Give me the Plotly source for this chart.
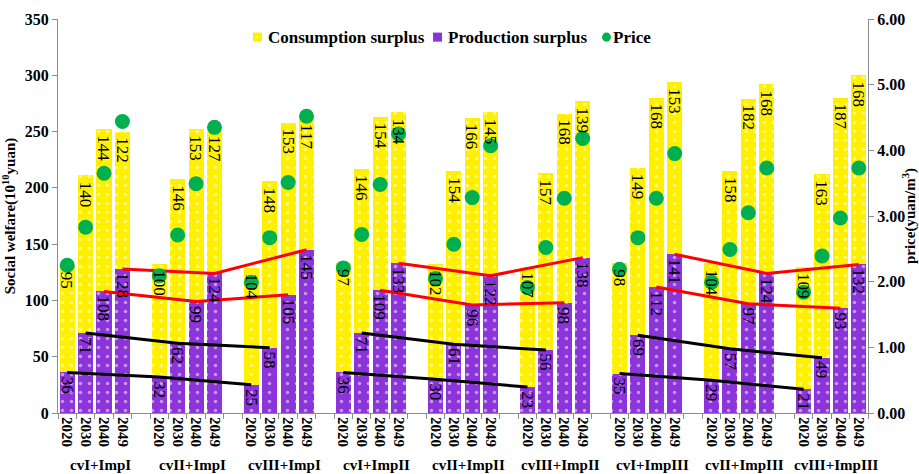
import plotly.graph_objects as go

groups = ["cvI+ImpI", "cvII+ImpI", "cvIII+ImpI",
          "cvI+ImpII", "cvII+ImpII", "cvIII+ImpII",
          "cvI+ImpIII", "cvII+ImpIII", "cvIII+ImpIII"]
years = ["2020", "2030", "2040", "2049"]

production = [36, 71, 108, 128,
              32, 62, 99, 124,
              25, 58, 105, 145,
              36, 71, 109, 133,
              30, 61, 96, 122,
              23, 56, 98, 138,
              35, 69, 112, 141,
              29, 57, 97, 124,
              21, 49, 93, 132]
consumption = [95, 140, 144, 122,
               100, 146, 153, 127,
               104, 148, 153, 117,
               97, 146, 154, 134,
               102, 154, 166, 145,
               107, 157, 168, 139,
               98, 149, 168, 153,
               104, 158, 182, 168,
               109, 163, 187, 168]
price = [2.25, 2.83, 3.65, 4.44,
         2.09, 2.71, 3.49, 4.35,
         1.99, 2.67, 3.51, 4.52,
         2.21, 2.72, 3.48, 4.25,
         2.05, 2.57, 3.28, 4.07,
         1.91, 2.52, 3.27, 4.18,
         2.19, 2.67, 3.27, 3.95,
         1.99, 2.49, 3.05, 3.73,
         1.84, 2.39, 2.97, 3.73]

FONT = "Times New Roman, Liberation Serif, serif"
YELLOW = "#FFF000"
PURPLE = "#8B34D9"
GREEN = "#00B050"
AXIS = "#8C8C8C"

# categorical axis with a spacer category between groups
cats, ticktext = [], []
for gi, g in enumerate(groups):
    for y in years:
        cats.append(f"{g} {y}")
        ticktext.append(y)
    if gi < len(groups) - 1:
        cats.append(f"{g} gap")
        ticktext.append(" ")

xbars = [f"{g} {y}" for g in groups for y in years]

fig = go.Figure()

bar_common = dict(x=xbars, width=0.82, marker_line_width=0, showlegend=False,
                  textposition="none")
fig.add_trace(go.Bar(
    name="Production surplus", y=production,
    marker=dict(color=PURPLE, pattern=dict(shape=".", fgcolor="white", size=9, solidity=0.12)),
    **bar_common))
fig.add_trace(go.Bar(
    name="Consumption surplus", y=consumption,
    marker=dict(color=YELLOW, pattern=dict(shape=".", fgcolor="white", size=9, solidity=0.12)),
    **bar_common))

# trend lines across cv scenarios within each Imp block
line_specs = [("2049", "#FF0000"), ("2040", "#FF0000"), ("2030", "black"), ("2020", "black")]
for b in range(3):
    block = groups[b * 3:(b + 1) * 3]
    for yr, col in line_specs:
        yi = years.index(yr)
        xs = [f"{g} {yr}" for g in block]
        ys = [production[groups.index(g) * 4 + yi] for g in block]
        fig.add_trace(go.Scatter(x=xs, y=ys, mode="lines", showlegend=False,
                                 line=dict(color=col, width=3), hoverinfo="skip"))

fig.add_trace(go.Scatter(
    name="Price", x=xbars, y=price, yaxis="y2", mode="markers", showlegend=False,
    marker=dict(color=GREEN, size=15, line=dict(width=0))))

# value labels (drawn above the price dots, as in the original)
lab_font = dict(family=FONT, size=17, color="black")
for xc, p, c in zip(xbars, production, consumption):
    fig.add_annotation(x=xc, y=p, xref="x", yref="y", text=str(p), textangle=90,
                       showarrow=False, yanchor="top", xanchor="center", yshift=-2,
                       font=lab_font)
    fig.add_annotation(x=xc, y=p + c, xref="x", yref="y", text=str(c), textangle=90,
                       showarrow=False, yanchor="top", xanchor="center", yshift=-4,
                       font=lab_font)

for gi, g in enumerate(groups):
    fig.add_annotation(x=gi * 5 + 1.8, y=-0.132, xref="x", yref="paper",
                       text=g, showarrow=False, yanchor="middle",
                       font=dict(family=FONT, size=15, color="black", weight="bold"))

# legend (compact, as in the original)
leg_font = dict(family=FONT, size=17, color="black", weight="bold")
leg_y = 0.954
legend_items = [("Consumption surplus", YELLOW, "rect", 0.2407, 0.2565),
                ("Production surplus", PURPLE, "rect", 0.4630, 0.4790),
                ("Price", GREEN, "circle", 0.6716, 0.6830)]
for name, col, kind, sx, tx in legend_items:
    fig.add_shape(type=kind, xref="paper", yref="paper",
                  x0=sx, x1=sx + 0.0111, y0=leg_y - 0.0115, y1=leg_y + 0.0115,
                  fillcolor=col, line=dict(width=0))
    fig.add_annotation(x=tx, y=leg_y, xref="paper", yref="paper", text=name,
                       showarrow=False, xanchor="left", yanchor="middle", font=leg_font)
fig.add_shape(type="circle", xref="paper", yref="paper",
              x0=0.2451, x1=0.2475, y0=leg_y - 0.0025, y1=leg_y + 0.0025,
              fillcolor="white", line=dict(width=0))

tickfont = dict(family=FONT, size=16, color="black", weight="bold")
fig.update_layout(
    width=919, height=474,
    margin=dict(l=58, r=51, t=19, b=61, autoexpand=False),
    plot_bgcolor="white", paper_bgcolor="white",
    barmode="stack",
    font=dict(family=FONT, color="black"),
    showlegend=False,
    xaxis=dict(type="category", categoryorder="array", categoryarray=cats,
               range=[-0.5, len(cats) - 0.5], automargin=False,
               tickmode="array", tickvals=cats, ticktext=ticktext,
               tickson="boundaries", ticks="outside", ticklen=5, tickcolor=AXIS,
               tickangle=90, tickfont=dict(family=FONT, size=15, color="black", weight="bold"),
               showline=True, linecolor=AXIS, linewidth=1, showgrid=False, zeroline=False),
    yaxis=dict(range=[0, 350], dtick=50, ticks="outside", ticklen=5, tickcolor=AXIS,
               showline=True, linecolor=AXIS, showgrid=False, zeroline=False,
               tickfont=tickfont, automargin=False,
               title=dict(text="Social welfare(10<sup>10</sup>yuan)", standoff=6,
                          font=dict(family=FONT, size=15, color="black", weight="bold"))),
    yaxis2=dict(range=[0, 6], dtick=1, tickformat=".2f", overlaying="y", side="right",
                ticks="outside", ticklen=5, tickcolor=AXIS,
                showline=True, linecolor=AXIS, showgrid=False, zeroline=False,
                tickfont=tickfont, automargin=False,
                title=dict(text="price(yuan/m<sup>3</sup>)", standoff=4,
                           font=dict(family=FONT, size=15, color="black", weight="bold"))),
)

fig.write_html("out.html", config={"displayModeBar": False},
               post_script="document.body.style.margin='0';document.body.style.overflow='hidden';")
